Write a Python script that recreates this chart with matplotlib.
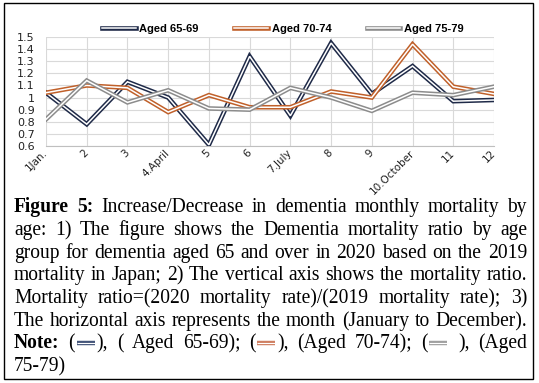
import numpy as np
import matplotlib
matplotlib.use("Agg")
from matplotlib import pyplot as plt
from matplotlib.patches import Rectangle
from matplotlib.lines import Line2D
from matplotlib.legend_handler import HandlerTuple

months = ["1Jan.", "2", "3", "4.April", "5", "6", "7.July", "8", "9", "10.October", "11", "12"]
aged_65_69 = [1.04, 0.78, 1.13, 1.00, 0.61, 1.34, 0.85, 1.45, 1.03, 1.26, 0.97, 0.98]
aged_70_74 = [1.04, 1.10, 1.08, 0.88, 1.02, 0.92, 0.92, 1.05, 1.00, 1.44, 1.09, 1.03]
aged_75_79 = [0.82, 1.14, 0.96, 1.06, 0.91, 0.90, 1.08, 1.00, 0.89, 1.04, 1.02, 1.09]
series_names = ["Aged 65-69", "Aged 70-74", "Aged 75-79"]
colors = ["#1f2a48", "#c0602a", "#8c8c8c"]
swatch_colors = ["#44557a", "#cf7f62", "#a0a0a0"]

W, H = 539, 383
fig = plt.figure(figsize=(W / 100, H / 100), dpi=100)

# outer frame
fig.patches.append(Rectangle((4 / W, 1 - 379 / H), 529 / W, 376 / H, transform=fig.transFigure,
                             fill=False, edgecolor="black", lw=1.0))

ax = fig.add_axes([46 / W, 1 - 146 / H, 448 / W, 109 / H])
x = np.arange(len(months))
handles = []
for vals, c in zip([aged_65_69, aged_70_74, aged_75_79], colors):
    l1, = ax.plot(x, vals, color=c, lw=3.3, solid_joinstyle="miter", zorder=3)
    l2, = ax.plot(x, vals, color="white", lw=1.1, solid_joinstyle="miter", zorder=3)
    handles.append((l1, l2))

ax.set_xlim(0, 11)
ax.set_ylim(0.6, 1.5)
ax.set_yticks(np.arange(0.6, 1.51, 0.1))
ax.set_yticklabels(["{:g}".format(round(v, 1)) for v in np.arange(0.6, 1.51, 0.1)])
ax.set_xticks(x)
ax.set_xticklabels(months, rotation=45, ha="right", va="center", rotation_mode="anchor")
ax.tick_params(length=0, pad=8)
ax.tick_params(axis="x", labelsize=7.5, pad=4)
ax.tick_params(axis="y", labelsize=8)
for lab in ax.get_xticklabels() + ax.get_yticklabels():
    lab.set_family("DejaVu Sans")
    lab.set_color("#222222")
ax.grid(True, color="#d9d9d9", lw=0.8)
for s in ["top", "right", "left"]:
    ax.spines[s].set_visible(False)
ax.spines["bottom"].set_color("#bfbfbf")

fig.legend(handles, series_names, handler_map={tuple: HandlerTuple(ndivide=1)},
           loc="center", bbox_to_anchor=(283 / W, 1 - 29 / H), ncol=3, frameon=False,
           handlelength=3.0, handletextpad=0.35, columnspacing=3.2,
           prop={"family": "Liberation Sans", "weight": "bold", "size": 8})

# caption, justified
left, right = 14, 527
line_y = [212, 235, 258, 280, 303, 326, 348, 371]
SW = "SW"
lines = [
    [[("Figure", True)], [("5:", True)], "Increase/Decrease", "in", "dementia", "monthly", "mortality", "by"],
    "age: 1) The figure shows the Dementia mortality ratio by age".split(),
    "group for dementia aged 65 and over in 2020 based on the 2019".split(),
    "mortality in Japan; 2) The vertical axis shows the mortality ratio.".split(),
    "Mortality ratio=(2020 mortality rate)/(2019 mortality rate); 3)".split(),
    "The horizontal axis represents the month (January to December).".split(),
    [[("Note:", True)], ["(", (SW, 0), "),"], "(", "Aged", "65-69);", ["(", (SW, 1), "),"],
     "(Aged", "70-74);", ["(", (SW, 2)], "),", "(Aged"],
    ["75-79)"],
]

renderer = fig.canvas.get_renderer()
sw_w = 22


def piece_width(p, fs):
    if isinstance(p, tuple) and p[0] == SW:
        return sw_w
    txt, bold = p if isinstance(p, tuple) else (p, False)
    t = fig.text(0, 0, txt, fontsize=fs, family="Liberation Serif", weight="bold" if bold else "normal")
    w = t.get_window_extent(renderer).width
    t.remove()
    return w


# pick the font size so the "horizontal axis" line is near its natural width
natural = piece_width(" ".join(lines[5]), 10)
fs = 10 * 508 / natural

for i, (words, yp) in enumerate(zip(lines, line_y)):
    words = [w if isinstance(w, list) else [w] for w in words]
    widths = [sum(piece_width(p, fs) for p in w) for w in words]
    if i < len(lines) - 1 and len(words) > 1:
        gap = (right - left - sum(widths)) / (len(words) - 1)
    else:
        gap = piece_width(" ", fs)
    xp = left
    for w in words:
        for p in w:
            pw = piece_width(p, fs)
            if isinstance(p, tuple) and p[0] == SW:
                yy = 1 - (yp - 5) / H
                xs = [(xp + 2) / W, (xp + pw - 2) / W]
                fig.add_artist(Line2D(xs, [yy, yy], color=swatch_colors[p[1]], lw=3.2,
                                      solid_capstyle="butt", transform=fig.transFigure))
                fig.add_artist(Line2D(xs, [yy, yy], color="white", lw=0.8,
                                      solid_capstyle="butt", transform=fig.transFigure))
            else:
                txt, bold = p if isinstance(p, tuple) else (p, False)
                fig.text(xp / W, 1 - yp / H, txt, fontsize=fs, family="Liberation Serif",
                         weight="bold" if bold else "normal", va="baseline")
            xp += pw
        xp += gap

fig.savefig("out.png", dpi=100)
